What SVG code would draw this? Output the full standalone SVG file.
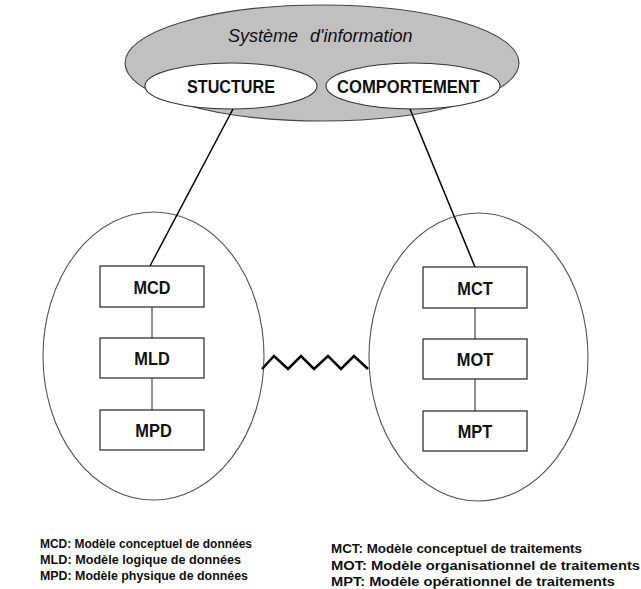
<svg xmlns="http://www.w3.org/2000/svg" width="641" height="589" viewBox="0 0 641 589">
<style>
text{font-family:"Liberation Sans",Arial,sans-serif;fill:#111}
.box{fill:#fff;stroke:#222;stroke-width:1.2}
.lbl{font-size:19px;font-weight:bold;text-anchor:middle}
.grp{fill:none;stroke:#555;stroke-width:1.1}
.ln{stroke:#000;stroke-width:1.5;fill:none}
.thin{stroke:#222;stroke-width:1;fill:none}
.leg{font-size:13.5px;font-weight:bold}
</style>
<rect width="641" height="589" fill="#fff"/>
<g id="systeme">
<ellipse cx="322" cy="63" rx="197" ry="58" fill="#c0c0c0" stroke="#444" stroke-width="1.1"/>
<text x="228" y="41.5" font-size="18" font-style="italic">Système</text>
<text x="310" y="41.5" font-size="18" font-style="italic">d'information</text>
</g>
<g id="structure">
<ellipse cx="231" cy="86" rx="86" ry="23" fill="#fff" stroke="#333" stroke-width="1.1"/>
<text class="lbl" x="231" y="93" textLength="88" lengthAdjust="spacingAndGlyphs">STUCTURE</text>
</g>
<g id="comportement">
<ellipse cx="413" cy="86" rx="87" ry="23" fill="#fff" stroke="#333" stroke-width="1.1"/>
<text class="lbl" x="408.5" y="93" textLength="143" lengthAdjust="spacingAndGlyphs">COMPORTEMENT</text>
</g>
<g id="donnees">
<ellipse class="grp" cx="153.5" cy="356" rx="110.5" ry="144"/>
</g>
<g id="traitements">
<ellipse class="grp" cx="478.5" cy="357" rx="109.5" ry="144"/>
</g>
<g id="connectors">
<line class="ln" x1="233" y1="109" x2="150" y2="266"/>
<line class="ln" x1="410" y1="109" x2="475" y2="267"/>
<line class="thin" x1="152" y1="307" x2="152" y2="338"/>
<line class="thin" x1="152" y1="378" x2="152" y2="410"/>
<line class="thin" x1="475" y1="308" x2="475" y2="339"/>
<line class="thin" x1="475" y1="379" x2="475" y2="411"/>
<path d="M262,369 L274,356 L288,369 L301,356 L314,369 L328,356 L341,369 L354,356 L368,369" fill="none" stroke="#000" stroke-width="2.5" stroke-linejoin="miter"/>
</g>
<g id="mcd"><rect class="box" x="100" y="266" width="104" height="41"/><text class="lbl" x="152" y="293.5" textLength="37" lengthAdjust="spacingAndGlyphs">MCD</text></g>
<g id="mld"><rect class="box" x="100" y="338" width="104" height="40"/><text class="lbl" x="152" y="365" textLength="35.5" lengthAdjust="spacingAndGlyphs">MLD</text></g>
<g id="mpd"><rect class="box" x="100" y="410" width="104" height="40"/><text class="lbl" x="153.5" y="437" textLength="36.5" lengthAdjust="spacingAndGlyphs">MPD</text></g>
<g id="mct"><rect class="box" x="423" y="267" width="104" height="41"/><text class="lbl" x="475" y="294.5" textLength="35.5" lengthAdjust="spacingAndGlyphs">MCT</text></g>
<g id="mot"><rect class="box" x="423" y="339" width="104" height="40"/><text class="lbl" x="475" y="366" textLength="36.5" lengthAdjust="spacingAndGlyphs">MOT</text></g>
<g id="mpt"><rect class="box" x="423" y="411" width="104" height="40"/><text class="lbl" x="475" y="438" textLength="34.5" lengthAdjust="spacingAndGlyphs">MPT</text></g>
<g id="legende">
<text class="leg" x="40" y="548" textLength="212" lengthAdjust="spacingAndGlyphs">MCD: Modèle conceptuel de données</text>
<text class="leg" x="40" y="564" textLength="201" lengthAdjust="spacingAndGlyphs">MLD: Modèle logique de données</text>
<text class="leg" x="40" y="580" textLength="208" lengthAdjust="spacingAndGlyphs">MPD: Modèle physique de données</text>
<text class="leg" x="331" y="553" textLength="251" lengthAdjust="spacingAndGlyphs">MCT: Modèle conceptuel de traitements</text>
<text class="leg" x="331" y="569.5" textLength="309" lengthAdjust="spacingAndGlyphs">MOT: Modèle organisationnel de traitements</text>
<text class="leg" x="331" y="585.5" textLength="284" lengthAdjust="spacingAndGlyphs">MPT: Modèle opérationnel de traitements</text>
</g>
</svg>
